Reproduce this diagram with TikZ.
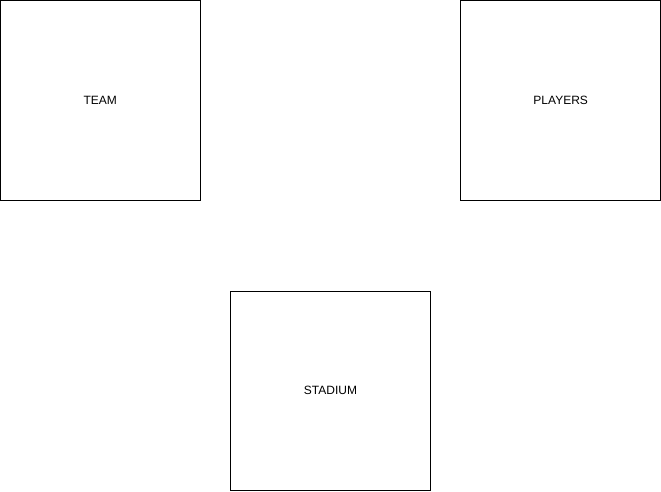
\documentclass[tikz,border=0pt]{standalone}
\usepackage{fontspec}
\setmainfont{Liberation Sans}
\usetikzlibrary{calc, positioning}

\begin{document}
\begin{tikzpicture}[
node distance = 90pt and 260pt,
every node/.style = {draw, line width=0.8pt,
                     minimum width=200pt, minimum height=200pt,
                     inner sep=0pt,
                     font=\fontsize{12pt}{14pt}\selectfont,
                     align=center},
                    ]
%---
\node (team) {TEAM};
\node (players) [right=of team] {PLAYERS};
\coordinate (mid) at ($(team.south)!0.5!(players.south)$);
\node (stadium) [below=of mid] {STADIUM};

\useasboundingbox (team.north west) rectangle +(661pt,-491pt);
\end{tikzpicture}
\end{document}
